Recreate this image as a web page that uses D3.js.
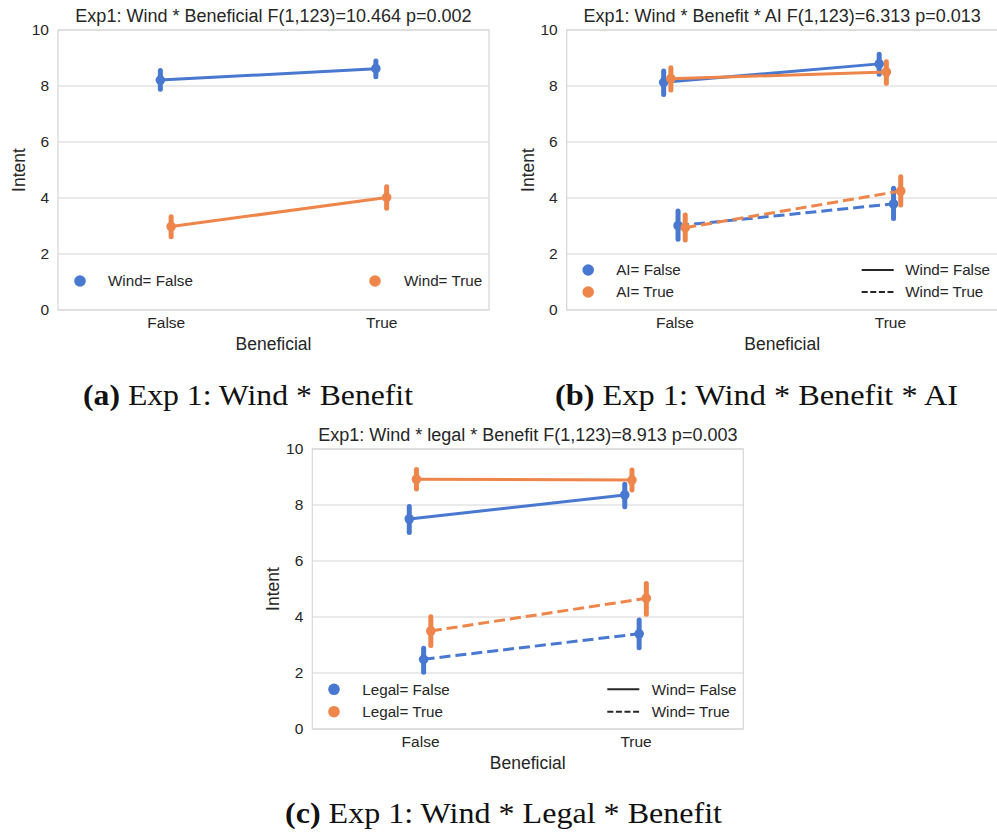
<!DOCTYPE html>
<html>
<head>
<meta charset="utf-8">
<script src="https://cdnjs.cloudflare.com/ajax/libs/d3/7.8.5/d3.min.js"></script>
<style>
  body { margin: 0; background: #fff; }
  svg { display: block; }
</style>
</head>
<body>
<script>
// categories and ticks
var categories = ["False", "True"];
var yTicks = [0, 2, 4, 6, 8, 10];

// (a) Wind * Beneficial : means and 95% CI per Beneficial level
var aWindFalseMean = [8.21, 8.62];
var aWindFalseCi = [[7.88, 8.55], [8.33, 8.89]];
var aWindTrueMean = [2.98, 4.02];
var aWindTrueCi = [[2.62, 3.33], [3.63, 4.40]];

// (b) Wind * Benefit * AI
var bAiFalseWindFalseMean = [8.13, 8.79];
var bAiFalseWindFalseCi = [[7.70, 8.54], [8.42, 9.13]];
var bAiTrueWindFalseMean = [8.26, 8.50];
var bAiTrueWindFalseCi = [[7.86, 8.65], [8.10, 8.87]];
var bAiFalseWindTrueMean = [3.01, 3.79];
var bAiFalseWindTrueCi = [[2.53, 3.54], [3.27, 4.35]];
var bAiTrueWindTrueMean = [2.94, 4.25];
var bAiTrueWindTrueCi = [[2.50, 3.39], [3.75, 4.76]];

// (c) Wind * legal * Benefit
var cLegalFalseWindFalseMean = [7.50, 8.36];
var cLegalFalseWindFalseCi = [[7.02, 7.95], [7.94, 8.74]];
var cLegalTrueWindFalseMean = [8.92, 8.89];
var cLegalTrueWindFalseCi = [[8.57, 9.27], [8.54, 9.25]];
var cLegalFalseWindTrueMean = [2.49, 3.40];
var cLegalFalseWindTrueCi = [[2.03, 2.88], [2.90, 3.89]];
var cLegalTrueWindTrueMean = [3.50, 4.67];
var cLegalTrueWindTrueCi = [[2.98, 4.01], [4.10, 5.20]];

var blue = "#4878d0";
var orange = "#ee854a";
var gridColor = "#d6d6d6";
var sans = "'Liberation Sans', Arial, sans-serif";
var serif = "'Liberation Serif', 'Times New Roman', serif";

var svg = d3.select("body").append("svg")
    .attr("width", 997)
    .attr("height", 832);

var plotW = 431, plotH = 280;

function drawPanel(opts) {
    var g = svg.append("g")
        .attr("transform", "translate(" + opts.left + "," + opts.top + ")");

    var x = d3.scalePoint()
        .domain(categories)
        .range([0, plotW])
        .padding(0.5);
    var y = d3.scaleLinear()
        .domain([0, 10])
        .range([plotH, 0]);

    // horizontal grid
    g.selectAll(".grid")
        .data(yTicks)
        .enter()
        .append("line")
        .attr("x1", 0)
        .attr("x2", plotW)
        .attr("y1", d => y(d))
        .attr("y2", d => y(d))
        .attr("stroke", gridColor)
        .attr("stroke-width", 1.2);

    // frame
    g.append("rect")
        .attr("x", 0)
        .attr("y", 0)
        .attr("width", plotW)
        .attr("height", plotH)
        .attr("fill", "none")
        .attr("stroke", gridColor)
        .attr("stroke-width", 1.2);

    var yAxis = d3.axisLeft(y).tickValues(yTicks).tickSize(0).tickPadding(9);
    var xAxis = d3.axisBottom(x).tickSize(0).tickPadding(7);

    var ya = g.append("g").call(yAxis);
    var xa = g.append("g").attr("transform", "translate(0," + plotH + ")").call(xAxis);
    [ya, xa].forEach(function(a) {
        a.select(".domain").remove();
        a.selectAll("text")
            .attr("font-family", sans)
            .attr("font-size", "15.5px")
            .attr("fill", "#262626");
    });

    var step = x.step();
    var n = opts.series.length;

    opts.series.forEach(function(s, k) {
        var off = n === 1 ? 0 : (k - (n - 1) / 2) * (opts.dodge / (n - 1)) * step;
        var pts = categories.map(function(c, i) {
            return {cx: x(c) + off, m: s.mean[i], ci: s.ci[i]};
        });

        var line = d3.line()
            .x(d => d.cx)
            .y(d => y(d.m));

        g.append("path")
            .datum(pts)
            .attr("d", line)
            .attr("fill", "none")
            .attr("stroke", s.color)
            .attr("stroke-width", 3)
            .attr("stroke-dasharray", s.dashed ? "11,5" : null);

        g.selectAll(null)
            .data(pts)
            .enter()
            .append("line")
            .attr("x1", d => d.cx)
            .attr("x2", d => d.cx)
            .attr("y1", d => y(d.ci[0]))
            .attr("y2", d => y(d.ci[1]))
            .attr("stroke", s.color)
            .attr("stroke-width", 5)
            .attr("stroke-linecap", "round");

        g.selectAll(null)
            .data(pts)
            .enter()
            .append("circle")
            .attr("cx", d => d.cx)
            .attr("cy", d => y(d.m))
            .attr("r", 4.8)
            .attr("fill", s.color);
    });

    // legends
    opts.legend.forEach(function(it) {
        if (it.type === "dot") {
            g.append("circle")
                .attr("cx", it.x)
                .attr("cy", it.y)
                .attr("r", 5.8)
                .attr("fill", it.color);
        } else {
            g.append("line")
                .attr("x1", it.x - 16)
                .attr("x2", it.x + 16)
                .attr("y1", it.y)
                .attr("y2", it.y)
                .attr("stroke", "#262626")
                .attr("stroke-width", 2)
                .attr("stroke-dasharray", it.dashed ? "6,2.6" : null);
        }
        g.append("text")
            .attr("x", it.tx)
            .attr("y", it.y)
            .attr("dy", "0.35em")
            .attr("font-family", sans)
            .attr("font-size", "15.2px")
            .attr("fill", "#262626")
            .text(it.label);
    });

    // title and axis labels
    g.append("text")
        .attr("x", plotW / 2)
        .attr("y", opts.titleY)
        .attr("text-anchor", "middle")
        .attr("font-family", sans)
        .attr("font-size", "18px")
        .attr("fill", "#262626")
        .text(opts.title);

    g.append("text")
        .attr("transform", "translate(" + opts.ylabX + "," + (plotH / 2) + ")rotate(-90)")
        .attr("text-anchor", "middle")
        .attr("font-family", sans)
        .attr("font-size", "17.5px")
        .attr("fill", "#262626")
        .text("Intent");

    g.append("text")
        .attr("x", plotW / 2)
        .attr("y", plotH + 40)
        .attr("text-anchor", "middle")
        .attr("font-family", sans)
        .attr("font-size", "17.5px")
        .attr("fill", "#262626")
        .text("Beneficial");
}

drawPanel({
    left: 58, top: 30, dodge: 0.05, titleY: -8, ylabX: -33,
    title: "Exp1: Wind * Beneficial F(1,123)=10.464 p=0.002",
    series: [
        {mean: aWindFalseMean, ci: aWindFalseCi, color: blue, dashed: false},
        {mean: aWindTrueMean, ci: aWindTrueCi, color: orange, dashed: false}
    ],
    legend: [
        {type: "dot", x: 22, y: 251, tx: 50, color: blue, label: "Wind= False"},
        {type: "dot", x: 317, y: 251, tx: 346, color: orange, label: "Wind= True"}
    ]
});

drawPanel({
    left: 566.7, top: 30, dodge: 0.1, titleY: -8, ylabX: -33,
    title: "Exp1: Wind * Benefit * AI F(1,123)=6.313 p=0.013",
    series: [
        {mean: bAiFalseWindFalseMean, ci: bAiFalseWindFalseCi, color: blue, dashed: false},
        {mean: bAiTrueWindFalseMean, ci: bAiTrueWindFalseCi, color: orange, dashed: false},
        {mean: bAiFalseWindTrueMean, ci: bAiFalseWindTrueCi, color: blue, dashed: true},
        {mean: bAiTrueWindTrueMean, ci: bAiTrueWindTrueCi, color: orange, dashed: true}
    ],
    legend: [
        {type: "dot", x: 21.5, y: 240, tx: 49.5, color: blue, label: "AI= False"},
        {type: "dot", x: 21.5, y: 262, tx: 49.5, color: orange, label: "AI= True"},
        {type: "line", x: 311, y: 240, tx: 338.5, dashed: false, label: "Wind= False"},
        {type: "line", x: 311, y: 262, tx: 338.5, dashed: true, label: "Wind= True"}
    ]
});

drawPanel({
    left: 312.3, top: 449, dodge: 0.1, titleY: -8, ylabX: -33,
    title: "Exp1: Wind * legal * Benefit F(1,123)=8.913 p=0.003",
    series: [
        {mean: cLegalFalseWindFalseMean, ci: cLegalFalseWindFalseCi, color: blue, dashed: false},
        {mean: cLegalTrueWindFalseMean, ci: cLegalTrueWindFalseCi, color: orange, dashed: false},
        {mean: cLegalFalseWindTrueMean, ci: cLegalFalseWindTrueCi, color: blue, dashed: true},
        {mean: cLegalTrueWindTrueMean, ci: cLegalTrueWindTrueCi, color: orange, dashed: true}
    ],
    legend: [
        {type: "dot", x: 21.7, y: 240.3, tx: 50, color: blue, label: "Legal= False"},
        {type: "dot", x: 21.7, y: 262.7, tx: 50, color: orange, label: "Legal= True"},
        {type: "line", x: 311, y: 240.3, tx: 339.4, dashed: false, label: "Wind= False"},
        {type: "line", x: 311, y: 262.7, tx: 339.4, dashed: true, label: "Wind= True"}
    ]
});

// sub-figure captions
function caption(cx, cy, width, letter, rest) {
    var t = svg.append("text")
        .attr("x", cx)
        .attr("y", cy)
        .attr("text-anchor", "middle")
        .attr("font-family", serif)
        .attr("font-size", "30px")
        .attr("fill", "#111")
        .attr("textLength", width)
        .attr("lengthAdjust", "spacingAndGlyphs");
    t.append("tspan").attr("font-weight", "bold").text("(" + letter + ")");
    t.append("tspan").text(" " + rest);
}

caption(248, 405, 330, "a", "Exp 1:  Wind * Benefit");
caption(756.5, 405, 403, "b", "Exp 1:  Wind * Benefit * AI");
caption(503.5, 823, 437, "c", "Exp 1:  Wind * Legal * Benefit");
</script>
</body>
</html>
